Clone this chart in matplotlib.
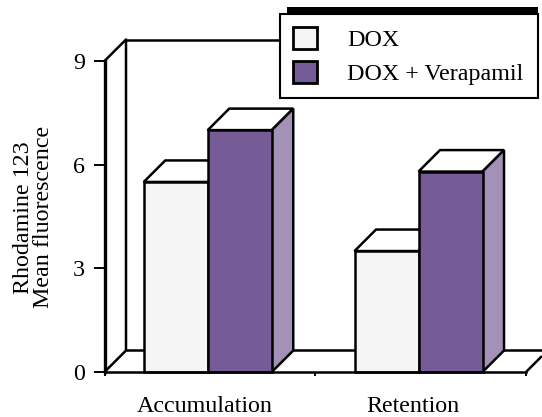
import matplotlib
matplotlib.use("Agg")
import matplotlib.pyplot as plt
from matplotlib.patches import Polygon, Rectangle, Patch

plt.rcParams['font.family'] = ['Liberation Serif', 'DejaVu Serif']

groups = ["Accumulation", "Retention"]
group_centers = [0.49, 1.49]
label_positions = [0.476, 1.465]
dox = [5.5, 3.5]
verapamil = [7.0, 5.8]
series_names = ["DOX", "DOX + Verapamil"]
yticks = [0, 3, 6, 9]
xticks = [0, 1, 2]

W, H = 542, 417
L, R, T, B = 104.5, 526.0, 61.0, 372.0
fs = 17.3
fig = plt.figure(figsize=(W / 100, H / 100), dpi=100)
ax = fig.add_axes([L / W, 1 - B / H, (R - L) / W, (B - T) / H])
ax.set_xlim(0, 2)
ax.set_ylim(0, 9)

px_x = 2 / (R - L)
px_y = 9 / (B - T)
dx = 21.5 * px_x
dy = 21.5 * px_y
bw = 64 * px_x
lw = 1.8
face_front = ["#f5f5f5", "#755c96"]
face_side = ["#f5f5f5", "#a491b8"]
face_top = "white"

# back wall and floor
line = dict(color="black", lw=lw, clip_on=False, zorder=1, solid_capstyle="butt")
ax.plot([0, dx, dx], [9, 9 + dy, dy], **line)
ax.plot([dx, 1.3], [9 + dy, 9 + dy], **line)
ax.plot([0, dx, 2 + 16 * px_x], [0, dy, dy], **line)
ax.plot([2, 2 + 16 * px_x], [0, 16 * px_y], **line)


def bar3d(x0, h, i, z):
    edge = dict(edgecolor="black", lw=lw, clip_on=False, zorder=z, joinstyle="miter")
    ax.add_patch(Polygon([(x0, h), (x0 + dx, h + dy), (x0 + bw + dx, h + dy), (x0 + bw, h)],
                         facecolor=face_top, **edge))
    ax.add_patch(Polygon([(x0 + bw, 0), (x0 + bw + dx, dy), (x0 + bw + dx, h + dy), (x0 + bw, h)],
                         facecolor=face_side[i], **edge))
    ax.bar(x0, h, width=bw, align="edge", color=face_front[i], edgecolor="black",
           lw=lw, clip_on=False, zorder=z + 0.1)


for c, a, b in zip(group_centers, dox, verapamil):
    bar3d(c - bw, a, 0, 3)
    bar3d(c, b, 1, 4)

for s in ("top", "right"):
    ax.spines[s].set_visible(False)
ax.spines["left"].set_linewidth(2.4)
ax.spines["bottom"].set_linewidth(lw)
ax.spines["bottom"].set_zorder(6)
ax.spines["left"].set_zorder(6)

ax.set_yticks(yticks)
ax.tick_params(axis="y", length=8, width=1.4, pad=6, labelsize=fs)
ax.set_xticks(xticks)
ax.set_xticklabels([])
ax.tick_params(axis="x", which="major", length=3, width=1.4)
ax.set_xticks(label_positions, minor=True)
ax.set_xticklabels(groups, minor=True, fontsize=fs)
ax.tick_params(axis="x", which="minor", length=0, pad=17)

fig.text(24 / W, 1 - 218 / H, "Rhodamine 123", rotation=90, ha="center", va="center", fontsize=fs)
fig.text(44 / W, 1 - 217 / H, "Mean fluorescence", rotation=90, ha="center", va="center", fontsize=fs)

# legend with its black shadow
fig.add_artist(Rectangle((287 / W, 1 - 20 / H), 251 / W, 13 / H, transform=fig.transFigure,
                         facecolor="black", edgecolor="none", zorder=8))
handles = [Patch(facecolor=face_front[0], edgecolor="black", lw=2),
           Patch(facecolor=face_front[1], edgecolor="black", lw=2)]
leg = fig.legend(handles, series_names, loc="upper left", mode="expand", ncols=1,
                 bbox_to_anchor=(280 / W, 1 - 98 / H, 258 / W, 84 / H), bbox_transform=fig.transFigure,
                 fontsize=fs, frameon=True, fancybox=False, framealpha=1, edgecolor="black",
                 borderaxespad=0, borderpad=0.55, handlelength=1.0, handleheight=1.0,
                 handletextpad=1.25, labelspacing=0.42)
leg.get_frame().set_linewidth(1.5)
leg.set_zorder(9)
ax.set_zorder(2)

fig.savefig("out.png", dpi=100)
